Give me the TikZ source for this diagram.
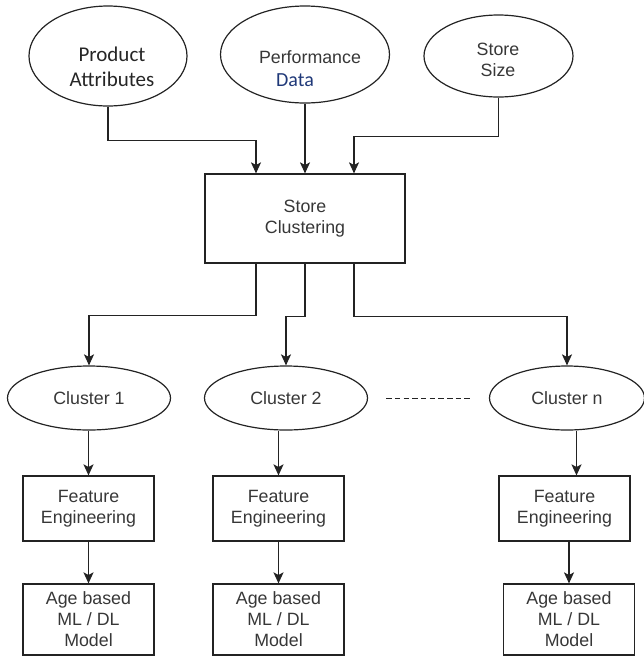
\documentclass[tikz,border=0pt]{standalone}
\usepackage{fontspec}
\setmainfont{Liberation Sans}
\newfontfamily\cbfont{Carlito}
\usetikzlibrary{shapes.geometric,arrows.meta}
\definecolor{linegray}{RGB}{35,35,35}
\definecolor{txtgray}{RGB}{55,55,55}
\definecolor{datablue}{RGB}{31,56,120}

\begin{document}
\begin{tikzpicture}[x=1pt,y=-1pt,
    every node/.style={text=txtgray, font=\fontsize{17.8}{21}\selectfont},
    srcnode/.style={draw=linegray, line width=1.2pt, ellipse, inner sep=0},
    clusnode/.style={draw=linegray, line width=1.2pt, ellipse, inner sep=0, minimum height=64},
    procbox/.style={draw=linegray, line width=1.2pt, rectangle, align=center, inner sep=0},
    conn/.style={draw=linegray, line width=1.2pt},
    arr/.style={conn, -{Stealth[length=11pt,width=10pt,inset=2.5pt]}}]
    \useasboundingbox (0,0) rectangle (644,657);
    % Drawing input ellipses
    \node[srcnode, minimum width=158, minimum height=100] (prod) at (108,56) {};
    \node[srcnode, minimum width=169, minimum height=97] (perf) at (305,54.5) {};
    \node[srcnode, minimum width=149, minimum height=82] (size) at (498.5,56) {};
    \node[font=\cbfont\fontsize{21}{25}\selectfont, text=black!85, align=center] (prod-txt) at (112,67) {Product\\Attributes};
    \node (perf-txt) at (310,57.5) {Performance};
    \node[font=\cbfont\fontsize{20}{23}\selectfont, text=datablue] (data-txt) at (295,80) {Data};
    \node[align=center] (size-txt) at (498,60) {Store\\Size};
    % Drawing clustering box
    \node[procbox, minimum width=200, minimum height=89] (clus) at (305,218.5) {Store\\Clustering};
    \draw[arr] (prod.south) -- ++(0,34) -| ([xshift=-49pt]clus.north);
    \draw[arr] (perf.south) -- (clus.north);
    \draw[arr] (size.south) -- ++(0,39) -| ([xshift=49pt]clus.north);
    % Drawing one column per cluster
    \foreach \i/\w/\cx/\fx/\mx in {1/163/89/88.5/88.5, 2/163/286/278.5/278.5, n/155/567/564.5/569}{
      \node[clusnode, minimum width=\w] (c\i) at (\cx,398) {Cluster \i};
      \node[procbox, minimum width=131, minimum height=65] (f\i) at (\fx,508.5) {Feature\\Engineering};
      \node[procbox, minimum width=131, minimum height=71] (m\i) at (\mx,619.5) {Age based\\ML / DL\\Model};
    }
    \draw[arr] ([xshift=-49pt]clus.south) -- ++(0,52) -| (c1.north);
    \draw[arr] (clus.south) -- ++(0,53) -| (c2.north);
    \draw[arr] ([xshift=49pt]clus.south) -- ++(0,53) -| (cn.north);
    \draw[conn, line width=1pt, dash pattern=on 5.5pt off 3.2pt] ([xshift=18pt]c2.east) -- ([xshift=-17pt]cn.west);
    % Drawing column arrows
    \draw[arr] (c1.south -| f1.north) -- (f1.north);
    \draw[arr] (c2.south -| f2.north) -- (f2.north);
    \draw[arr] ([xshift=12pt]fn.north |- cn.south) -- ([xshift=12pt]fn.north);
    \foreach \i in {1,2,n}{
      \draw[arr] (m\i.north |- f\i.south) -- (m\i.north);
    }
\end{tikzpicture}
\end{document}
